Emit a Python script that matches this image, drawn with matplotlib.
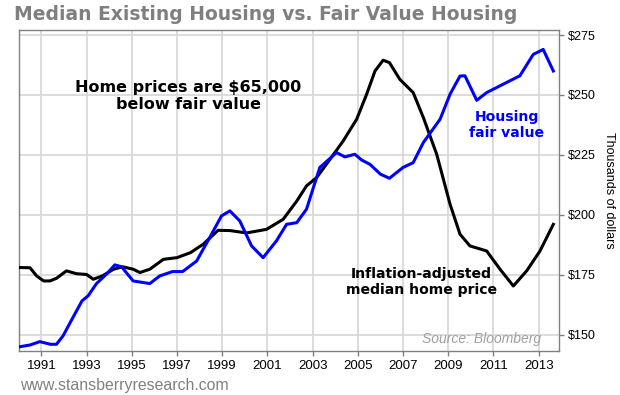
import matplotlib
matplotlib.use("Agg")
import matplotlib.pyplot as plt
import numpy as np

# inflation-adjusted median home price (thousands of dollars)
price_years = [1990.0, 1990.5, 1990.79, 1991.1, 1991.38, 1991.67, 1992.11, 1992.56, 1993.0,
               1993.3, 1993.7, 1994.2, 1994.6, 1995.06, 1995.36, 1995.8, 1996.4, 1997.0,
               1997.6, 1998.16, 1998.82, 1999.34, 2000.08, 2000.96, 2001.7, 2002.3, 2002.73,
               2003.18, 2003.77, 2004.35, 2004.95, 2005.39, 2005.76, 2006.12, 2006.4, 2006.86,
               2007.45, 2007.9, 2008.49, 2009.08, 2009.52, 2009.96, 2010.7, 2011.29, 2011.88,
               2012.47, 2013.06, 2013.65]
price_vals = [178.1, 178.0, 174.6, 172.5, 172.5, 173.6, 176.7, 175.5, 175.2,
              173.2, 174.6, 177.4, 178.4, 177.4, 176.0, 177.4, 181.5, 182.2,
              184.3, 187.8, 193.6, 193.5, 192.5, 194.0, 198.2, 205.8, 212.1,
              215.6, 223.2, 230.8, 239.9, 250.3, 260.0, 264.5, 263.5, 256.5,
              251.0, 240.6, 225.3, 204.5, 192.0, 187.1, 185.0, 177.4, 170.4,
              176.7, 185.0, 196.1]

# housing fair value (thousands of dollars)
fair_years = [1990.0, 1990.5, 1990.93, 1991.4, 1991.67, 1991.96, 1992.4, 1992.8, 1993.07,
              1993.44, 1993.9, 1994.25, 1994.55, 1995.06, 1995.8, 1996.24, 1996.8, 1997.25,
              1997.87, 1998.45, 1998.97, 1999.34, 1999.78, 2000.3, 2000.81, 2001.4, 2001.85,
              2002.3, 2002.73, 2003.32, 2004.06, 2004.43, 2004.87, 2005.17, 2005.54, 2006.0,
              2006.4, 2007.0, 2007.45, 2007.9, 2008.64, 2009.08, 2009.52, 2009.74, 2010.26,
              2010.7, 2011.43, 2012.17, 2012.76, 2013.2, 2013.65]
fair_vals = [145.0, 145.8, 147.2, 146.1, 146.1, 149.6, 157.3, 164.2, 166.3,
             171.4, 175.5, 179.2, 178.4, 172.5, 171.4, 174.6, 176.4, 176.4,
             180.8, 190.6, 199.6, 201.7, 197.5, 187.1, 182.2, 189.2, 196.1,
             196.8, 202.4, 219.8, 226.0, 224.2, 225.3, 222.9, 221.1, 217.0,
             215.3, 219.8, 221.8, 230.2, 239.9, 250.3, 257.9, 258.0, 247.8,
             251.0, 254.5, 258.0, 266.9, 269.0, 260.0]

year_ticks = list(range(1991, 2014, 2))
value_ticks = [150, 175, 200, 225, 250, 275]
value_labels = ['\\$150', '\\$175', '\\$200', '\\$225', '\\$250', '\\$275']

fig = plt.figure(figsize=(6.2, 3.95), dpi=100)
ax = fig.add_axes([0.0302, 0.1114, 0.8714, 0.8127])

ax.plot(price_years, price_vals, color='black', lw=2.2, zorder=3)
ax.plot(fair_years, fair_vals, color='#0000ff', lw=2.2, zorder=3)

ax.set_xlim(1990.0, 2013.9)
ax.set_ylim(143.3, 277.1)
ax.set_xticks(year_ticks)
ax.set_xticklabels([str(y) for y in year_ticks], fontsize=9.5, family='Liberation Sans')
ax.set_yticks(value_ticks)
ax.set_yticklabels(value_labels, fontsize=9, family='Liberation Sans')
ax.yaxis.tick_right()
ax.yaxis.set_label_position('right')
ax.tick_params(axis='y', length=3.6, width=1, color='#808080', pad=2.5)
ax.tick_params(axis='x', length=3.8, width=1, color='#808080', pad=2.5)
ax.grid(True, color='#d6d6d6', lw=1.2)
ax.set_axisbelow(True)
for s in ax.spines.values():
    s.set_color('#808080')
    s.set_linewidth(1)
ax.set_ylabel('Thousands of dollars', rotation=270, fontsize=9,
              family='Liberation Sans', labelpad=14)

ax.text(1997.5, 249.6, 'Home prices are \\$65,000\nbelow fair value', ha='center', va='center',
        fontsize=11.5, fontweight='bold', color='black', linespacing=1.22, family='DejaVu Sans')
ax.text(2011.6, 237.4, 'Housing\nfair value', ha='center', va='center',
        fontsize=10.1, fontweight='bold', color='#0000ff', linespacing=1.15, family='DejaVu Sans')
ax.text(2007.8, 172.0, 'Inflation-adjusted\nmedian home price', ha='center', va='center',
        fontsize=10.1, fontweight='bold', color='black', linespacing=1.15, family='DejaVu Sans')
ax.text(2013.13, 148.2, 'Source: Bloomberg', ha='right', va='center', fontsize=10,
        style='italic', color='#a0a0a0', family='Liberation Sans')

fig.text(14 / 620, 1 - 15 / 395, 'Median Existing Housing vs. Fair Value Housing',
         ha='left', va='center', fontsize=13.5, fontweight='bold', color='#7f7f7f',
         family='DejaVu Sans')
fig.text(20 / 620, 1 - 390 / 395, 'www.stansberryresearch.com', ha='left', va='baseline',
         fontsize=11.4, color='#808080', family='Liberation Sans')

fig.savefig('out.png', dpi=100)
